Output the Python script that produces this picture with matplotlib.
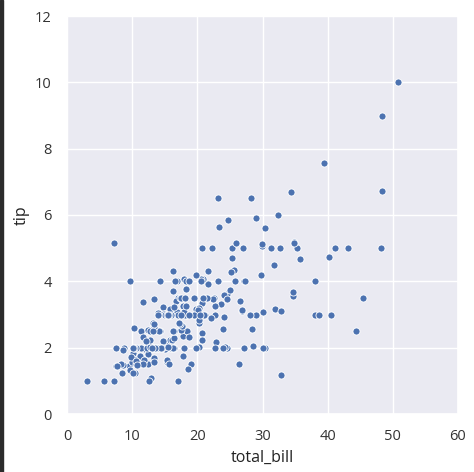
import matplotlib
matplotlib.use("Agg")
import matplotlib.pyplot as plt
import seaborn as sns
from matplotlib.patches import Rectangle

total_bill = [
    16.99, 10.34, 21.01, 23.68, 24.59, 25.29, 8.77, 26.88, 15.04, 14.78,
    10.27, 35.26, 15.42, 18.43, 14.83, 21.58, 10.33, 16.29, 16.97, 20.65,
    17.92, 20.29, 15.77, 39.42, 19.82, 17.81, 13.37, 12.69, 21.70, 19.65,
    9.55, 18.35, 15.06, 20.69, 17.78, 24.06, 16.31, 16.93, 18.69, 31.27,
    16.04, 17.46, 13.94, 9.68, 30.40, 18.29, 22.23, 32.40, 28.55, 18.04,
    12.54, 10.29, 34.81, 9.94, 25.56, 19.49, 38.01, 26.41, 11.24, 48.27,
    20.29, 13.81, 11.02, 18.29, 17.59, 20.08, 16.45, 3.07, 20.23, 15.01,
    12.02, 17.07, 26.86, 25.28, 14.73, 10.51, 17.92, 27.20, 22.76, 17.29,
    19.44, 16.66, 10.07, 32.68, 15.98, 34.83, 13.03, 18.28, 24.71, 21.16,
    28.97, 22.49, 5.75, 16.32, 22.75, 40.17, 27.28, 12.03, 21.01, 12.46,
    11.35, 15.38, 44.30, 22.42, 20.92, 15.36, 20.49, 25.21, 18.24, 14.31,
    14.00, 7.25, 38.07, 23.95, 25.71, 17.31, 29.93, 10.65, 12.43, 24.08,
    11.69, 13.42, 14.26, 15.95, 12.48, 29.80, 8.52, 14.52, 11.38, 22.82,
    19.08, 20.27, 11.17, 12.26, 18.26, 8.51, 10.33, 14.15, 16.00, 13.16,
    17.47, 34.30, 41.19, 27.05, 16.43, 8.35, 18.64, 11.87, 9.78, 7.51,
    14.07, 13.13, 17.26, 24.55, 19.77, 29.85, 48.17, 25.00, 13.39, 16.49,
    21.50, 12.66, 16.21, 13.81, 17.51, 24.52, 20.76, 31.71, 10.59, 10.63,
    50.81, 15.81, 7.25, 31.85, 16.82, 32.90, 17.89, 14.48, 9.60, 34.63,
    34.65, 23.33, 45.35, 23.17, 40.55, 20.69, 20.90, 30.46, 18.15, 23.10,
    15.69, 19.81, 28.44, 15.48, 16.58, 7.56, 10.34, 43.11, 13.00, 13.51,
    18.71, 12.74, 13.00, 16.40, 20.53, 16.47, 26.59, 38.73, 24.27, 12.76,
    30.06, 25.89, 48.33, 13.27, 28.17, 12.90, 28.15, 11.59, 7.74, 30.14,
    12.16, 13.42, 8.58, 15.98, 13.42, 16.27, 10.09, 20.45, 13.28, 22.12,
    24.01, 15.69, 11.61, 10.77, 15.53, 10.07, 12.60, 32.83, 35.83, 29.03,
    27.18, 22.67, 17.82, 18.78,
]
tip = [
    1.01, 1.66, 3.50, 3.31, 3.61, 4.71, 2.00, 3.12, 1.96, 3.23,
    1.71, 5.00, 1.57, 3.00, 3.02, 3.92, 1.67, 3.71, 3.50, 3.35,
    4.08, 2.75, 2.23, 7.58, 3.18, 2.34, 2.00, 2.00, 4.30, 3.00,
    1.45, 2.50, 3.00, 2.45, 3.27, 3.60, 2.00, 3.07, 2.31, 5.00,
    2.24, 2.54, 3.06, 1.32, 5.60, 3.00, 5.00, 6.00, 2.05, 3.00,
    2.50, 2.60, 5.20, 1.56, 4.34, 3.51, 3.00, 1.50, 1.76, 6.73,
    3.21, 2.00, 1.98, 3.76, 2.64, 3.15, 2.47, 1.00, 2.01, 2.09,
    1.97, 3.00, 3.14, 5.00, 2.20, 1.25, 3.08, 4.00, 3.00, 2.71,
    3.00, 3.40, 1.83, 5.00, 2.03, 5.17, 2.00, 4.00, 5.85, 3.00,
    3.00, 3.50, 1.00, 4.30, 3.25, 4.73, 4.00, 1.50, 3.00, 1.50,
    2.50, 3.00, 2.50, 3.48, 4.08, 1.64, 4.06, 4.29, 3.76, 4.00,
    3.00, 1.00, 4.00, 2.55, 4.00, 3.50, 5.07, 1.50, 1.80, 2.92,
    2.31, 1.68, 2.50, 2.00, 2.52, 4.20, 1.48, 2.00, 2.00, 2.18,
    1.50, 2.83, 1.50, 2.00, 3.25, 1.25, 2.00, 2.00, 2.00, 2.75,
    3.50, 6.70, 5.00, 5.00, 2.30, 1.50, 1.36, 1.63, 1.73, 2.00,
    2.50, 2.00, 2.74, 2.00, 2.00, 5.14, 5.00, 3.75, 2.61, 2.00,
    3.50, 2.50, 2.00, 2.00, 3.00, 3.48, 2.24, 4.50, 1.61, 2.00,
    10.00, 3.16, 5.15, 3.18, 4.00, 3.11, 2.00, 2.00, 4.00, 3.55,
    3.68, 5.65, 3.50, 6.50, 3.00, 5.00, 3.50, 2.00, 3.50, 4.00,
    1.50, 4.19, 2.56, 2.02, 4.00, 1.44, 2.00, 5.00, 2.00, 2.00,
    4.00, 2.01, 2.00, 2.50, 4.00, 3.23, 3.41, 3.00, 2.03, 2.23,
    2.00, 5.16, 9.00, 2.50, 6.50, 1.10, 3.00, 1.50, 1.44, 3.09,
    2.20, 3.48, 1.92, 3.00, 1.58, 2.50, 2.00, 3.00, 2.72, 2.88,
    2.00, 3.00, 3.39, 1.47, 3.00, 1.25, 1.00, 1.17, 4.67, 5.92,
    2.00, 2.00, 1.75, 3.00,
]

sns.set_theme(style="darkgrid")
plt.rcParams['font.family'] = ['Open Sans', 'DejaVu Sans']

fig = plt.figure(figsize=(4.74, 4.72), dpi=100)
ax = fig.add_axes([67 / 474, 58 / 472, 391 / 474, 398 / 472])

sns.scatterplot(x=total_bill, y=tip, ax=ax, s=26, color="#4c72b0",
                edgecolor="white", linewidth=0.6)

ax.set_xlim(0, 60)
ax.set_ylim(0, 12)
ax.set_xticks(range(0, 61, 10))
ax.set_yticks(range(0, 13, 2))
ax.tick_params(labelsize=10.5, colors="#333333", pad=5)
ax.set_xlabel("total_bill", fontsize=11.5, color="#222222")
ax.set_ylabel("tip", fontsize=11.5, color="#222222")

# dark strip on the left edge of the screenshot
fig.patches.append(Rectangle((0, 0), 3 / 474, 1, transform=fig.transFigure,
                             color="#2b2b2b", zorder=10))

fig.savefig("out.png", dpi=100)
